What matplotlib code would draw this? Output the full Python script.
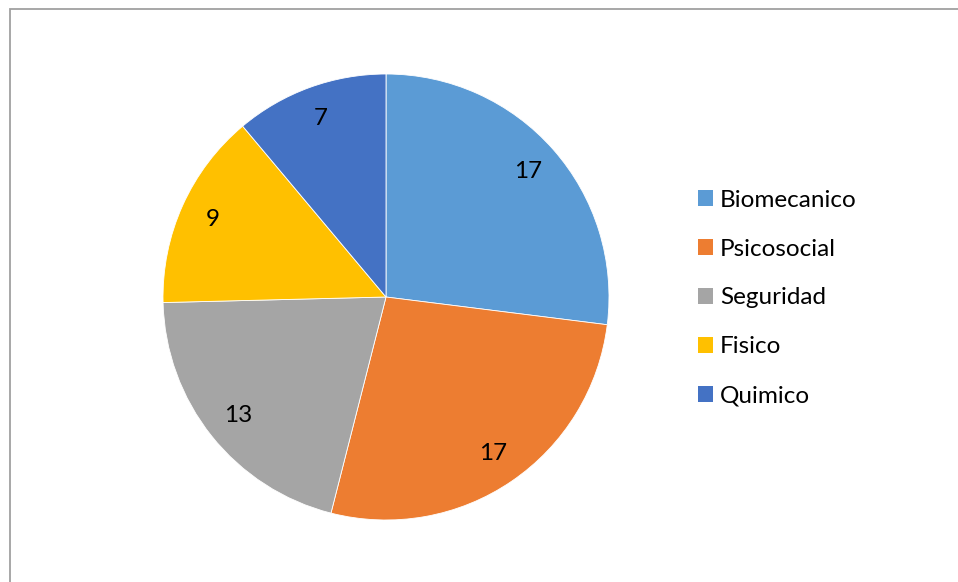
import matplotlib.pyplot as plt
from matplotlib.patches import Patch, Rectangle

categories = ['Biomecanico', 'Psicosocial', 'Seguridad', 'Fisico', 'Quimico']
values = [17, 17, 13, 9, 7]
colors = ['#5b9bd5', '#ed7d31', '#a5a5a5', '#ffc000', '#4472c4']

plt.rcParams['font.family'] = ['Lato', 'DejaVu Sans']

fig = plt.figure(figsize=(9.58, 5.82), dpi=100)
ax = fig.add_axes([163 / 958, 62 / 582, 446 / 958, 446 / 582])

wedges, texts, autotexts = ax.pie(
    values, colors=colors, startangle=90, counterclock=False,
    autopct=lambda p: f'{p * sum(values) / 100:.0f}', pctdistance=0.85,
    wedgeprops=dict(linewidth=0.6, edgecolor='white'),
    textprops=dict(fontsize=17.5, color='black'))
ax.set_xlim(-1, 1)
ax.set_ylim(-1, 1)
ax.set_aspect('equal')

handles = [Patch(facecolor=c, edgecolor='none') for c in colors]
fig.legend(handles, categories, loc='center left', bbox_to_anchor=(0.706, 0.488),
           frameon=False, fontsize=17.5, handlelength=0.6, handleheight=0.6,
           handletextpad=0.3, labelspacing=1.15)

# chart border (only top and left are visible in the crop)
fig.add_artist(Rectangle((9.5 / 958, -0.1), 1.2, (582 - 8.5) / 582 + 0.1,
                         transform=fig.transFigure, fill=False,
                         edgecolor='#a0a0a0', linewidth=1.3))

fig.savefig('out.png', dpi=100)
